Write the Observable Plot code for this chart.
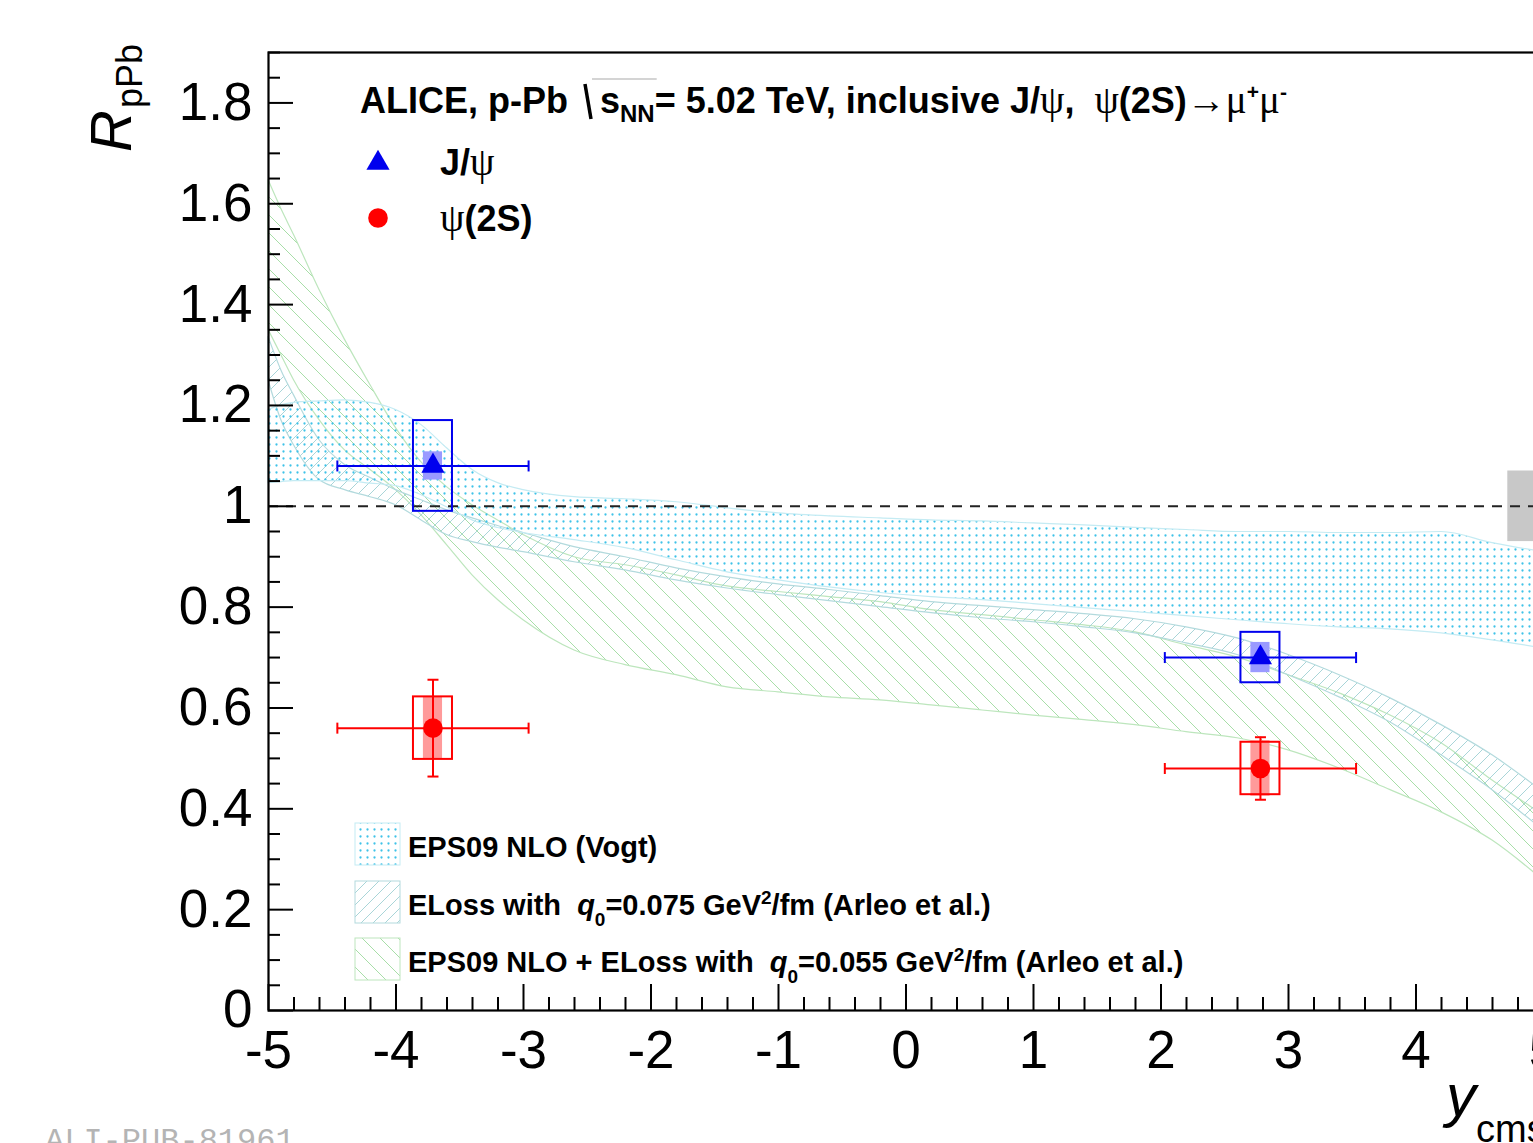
<!DOCTYPE html>
<html><head><meta charset="utf-8">
<script src="https://cdn.jsdelivr.net/npm/d3@7"></script>
<script src="https://cdn.jsdelivr.net/npm/@observablehq/plot@0.6"></script>
<style>
html,body{margin:0;padding:0;background:#fff;overflow:hidden;}
#chart{width:1533px;height:1143px;overflow:hidden;position:relative;}
#chart svg{max-width:none !important;width:1600px !important;height:1143px !important;}
</style></head><body><div id="chart"></div>
<script>
// ---------------- data ----------------
const binLo = [-4.46, 2.03];
const binHi = [-2.96, 3.53];
const binCenter = [-3.71, 2.78];

const jpsiR = [1.08, 0.70];
const jpsiStat = [0.012, 0.012];
const jpsiSyst = [0.09, 0.05];
const jpsiCorr = [0.028, 0.03];

const psiR = [0.56, 0.48];
const psiStat = [0.096, 0.062];
const psiSyst = [0.062, 0.052];
const psiCorr = [0.062, 0.055];

const globalUnc = 0.07;

const bandX = [-5, -4.9, -4.8, -4.6, -4.4, -4.2, -4, -3.8, -3.6, -3.4, -3.2, -3, -2.6, -2.2, -1.8, -1.4, -1, -0.6, -0.2, 0.2, 0.6, 1, 1.4, 1.8, 2.2, 2.6, 3, 3.4, 3.8, 4.2, 4.6, 5];
const vogtLo = [1.046, 1.048, 1.05, 1.05, 1.05, 1.045, 1.04, 1.022, 0.998, 0.972, 0.957, 0.947, 0.933, 0.917, 0.893, 0.869, 0.853, 0.839, 0.828, 0.82, 0.814, 0.806, 0.798, 0.79, 0.782, 0.774, 0.766, 0.76, 0.756, 0.748, 0.734, 0.718];
const vogtHi = [1.191, 1.2, 1.205, 1.208, 1.21, 1.205, 1.191, 1.161, 1.115, 1.072, 1.046, 1.032, 1.018, 1.014, 1.008, 0.996, 0.986, 0.98, 0.976, 0.972, 0.97, 0.966, 0.962, 0.957, 0.953, 0.949, 0.949, 0.947, 0.947, 0.949, 0.927, 0.909];
const elossLo = [1.25, 1.171, 1.121, 1.052, 1.032, 1.018, 1.002, 0.972, 0.943, 0.929, 0.918, 0.909, 0.889, 0.873, 0.853, 0.837, 0.824, 0.812, 0.80, 0.788, 0.778, 0.77, 0.76, 0.748, 0.728, 0.705, 0.665, 0.621, 0.571, 0.506, 0.437, 0.357];
const elossHi = [1.336, 1.27, 1.22, 1.131, 1.082, 1.056, 1.032, 1.012, 0.992, 0.976, 0.961, 0.947, 0.919, 0.899, 0.877, 0.859, 0.845, 0.834, 0.822, 0.81, 0.802, 0.794, 0.786, 0.776, 0.76, 0.738, 0.705, 0.665, 0.619, 0.566, 0.506, 0.433];
const combLo = [1.35, 1.30, 1.25, 1.171, 1.111, 1.072, 1.032, 0.982, 0.923, 0.863, 0.814, 0.774, 0.714, 0.685, 0.665, 0.641, 0.631, 0.621, 0.615, 0.605, 0.595, 0.585, 0.576, 0.566, 0.552, 0.54, 0.516, 0.48, 0.437, 0.393, 0.337, 0.258];
const combHi = [1.647, 1.59, 1.538, 1.429, 1.33, 1.24, 1.155, 1.087, 1.038, 1.002, 0.972, 0.943, 0.899, 0.883, 0.863, 0.841, 0.83, 0.82, 0.81, 0.794, 0.784, 0.774, 0.764, 0.75, 0.724, 0.70, 0.665, 0.629, 0.585, 0.53, 0.456, 0.387];

const xMajor = [-5, -4, -3, -2, -1, 0, 1, 2, 3, 4, 5];
const yMajor = [0, 0.2, 0.4, 0.6, 0.8, 1, 1.2, 1.4, 1.6, 1.8];
const xMinor = d3.range(-50, 51, 2).map(d => d / 10).filter(d => !Number.isInteger(d));
const yMinor = d3.range(0, 39, 1).map(d => d / 20).filter(d => Math.round(d * 100) % 20 !== 0);

const modelLabels = ["EPS09 NLO (Vogt)", "ELoss with", "EPS09 NLO + ELoss with"];

// ---------------- tables ----------------
const band = (lo, hi) => bandX.map((x, i) => ({x, lo: lo[i], hi: hi[i]}));
const vogt = band(vogtLo, vogtHi);
const eloss = band(elossLo, elossHi);
const comb = band(combLo, combHi);
const mk = (r, stat, syst, corr) => binCenter.map((x, i) => ({x, lo: binLo[i], hi: binHi[i], r: r[i], stat: stat[i], syst: syst[i], corr: corr[i]}));
const jpsi = mk(jpsiR, jpsiStat, jpsiSyst, jpsiCorr);
const psi = mk(psiR, psiStat, psiSyst, psiCorr);

const W = 1600, H = 1143, mL = 268, mR = 57, mT = 52, mB = 133;
const plotW = W - mL - mR, plotH = H - mT - mB;
const SANS = "'Liberation Sans', Arial, Helvetica, sans-serif";
const SERIF = "'Liberation Serif', 'Times New Roman', serif";
const BLUE = "#0000ee", RED = "#ff0000";

const vCap = {draw(ctx, size) { const r = Math.sqrt(size / Math.PI); ctx.moveTo(0, -r); ctx.lineTo(0, r); }};
const hCap = {draw(ctx, size) { const r = Math.sqrt(size / Math.PI); ctx.moveTo(-r, 0); ctx.lineTo(r, 0); }};
const ends = (d) => d.flatMap(p => [{x: p.lo, r: p.r}, {x: p.hi, r: p.r}]);
const vEnds = (d) => d.flatMap(p => [{x: p.x, r: p.r - p.stat}, {x: p.x, r: p.r + p.stat}]);

function series(data, color, light, symbol, rad, caps) {
  return [
    Plot.rect(data, {x1: d => d.x - 0.075, x2: d => d.x + 0.075, y1: d => d.r - d.corr, y2: d => d.r + d.corr, fill: light}),
    Plot.rect(data, {x1: d => d.x - 0.153, x2: d => d.x + 0.153, y1: d => d.r - d.syst, y2: d => d.r + d.syst, fill: "none", stroke: color, strokeWidth: 2}),
    Plot.ruleY(data, {y: "r", x1: "lo", x2: "hi", stroke: color, strokeWidth: 2}),
    Plot.ruleX(data, {x: "x", y1: d => d.r - d.stat, y2: d => d.r + d.stat, stroke: color, strokeWidth: 2}),
    Plot.dot(ends(data), {x: "x", y: "r", symbol: vCap, r: 5.5, fill: "none", stroke: color, strokeWidth: 2}),
    caps ? Plot.dot(vEnds(data), {x: "x", y: "r", symbol: hCap, r: 5.5, fill: "none", stroke: color, strokeWidth: 2}) : null,
    Plot.dot(data, {x: "x", y: "r", symbol, r: rad, fill: color, stroke: "none"})
  ];
}

const svgEl = Plot.plot({
  width: W, height: H,
  marginLeft: mL, marginRight: mR, marginTop: mT, marginBottom: mB,
  style: {fontFamily: SANS, background: "white", color: "black", overflow: "visible"},
  x: {domain: [-5, 5]},
  y: {domain: [0, 1.9]},
  marks: [
    Plot.areaY(comb, {x: "x", y1: "lo", y2: "hi", fill: "url(#hatchGreen)", stroke: "#bde6bd", strokeWidth: 1.2, curve: "monotone-x"}),
    Plot.areaY(eloss, {x: "x", y1: "lo", y2: "hi", fill: "url(#hatchTeal)", stroke: "#b3dadd", strokeWidth: 1.2, curve: "monotone-x"}),
    Plot.areaY(vogt, {x: "x", y1: "lo", y2: "hi", fill: "url(#dotsCyan)", stroke: "#c4ebf3", strokeWidth: 1.2, curve: "monotone-x"}),
    Plot.rect([globalUnc], {x1: 4.72, x2: 5, y1: d => 1 - d, y2: d => 1 + d, fill: "#c8c8c8"}),
    Plot.ruleY([1], {stroke: "#222", strokeWidth: 2, strokeDasharray: "10,8"}),
    ...series(psi, RED, "#ff9a9a", "circle", 9.8, true),
    ...series(jpsi, BLUE, "#9a9aff", "triangle", 8.6, false),
    Plot.tickX(xMinor, {x: d => d, insetTop: plotH - 13, stroke: "black", strokeWidth: 2}),
    Plot.tickX(xMajor, {x: d => d, insetTop: plotH - 26, stroke: "black", strokeWidth: 2}),
    Plot.tickY(yMinor, {y: d => d, insetRight: plotW - 12, stroke: "black", strokeWidth: 2}),
    Plot.tickY(yMajor, {y: d => d, insetRight: plotW - 25, stroke: "black", strokeWidth: 2}),
    Plot.axisY({ticks: yMajor, tickSize: 0, tickPadding: 16, fontSize: 53, tickFormat: d => String(+d.toFixed(1))}),
    Plot.axisX({ticks: xMajor, tickSize: 0, tickPadding: 20, fontSize: 53, tickFormat: d => String(d)}),
    Plot.frame({stroke: "black", strokeWidth: 2.2})
  ]
});
document.getElementById("chart").appendChild(svgEl);

// ---------------- patterns ----------------
const svg = d3.select(svgEl);
const defs = svg.insert("defs", ":first-child");
const pDots = defs.append("pattern").attr("id", "dotsCyan").attr("patternUnits", "userSpaceOnUse").attr("width", 7).attr("height", 7);
pDots.append("circle").attr("cx", 3.5).attr("cy", 3.5).attr("r", 1.15).attr("fill", "#3fc2e8");
const pTeal = defs.append("pattern").attr("id", "hatchTeal").attr("patternUnits", "userSpaceOnUse").attr("width", 12).attr("height", 12);
pTeal.append("path").attr("d", "M-1,13 L13,-1 M-1,1 L1,-1 M11,13 L13,11").attr("stroke", "#9fd0d4").attr("stroke-width", 0.9).attr("fill", "none");
const pGreen = defs.append("pattern").attr("id", "hatchGreen").attr("patternUnits", "userSpaceOnUse").attr("width", 18).attr("height", 18);
pGreen.append("path").attr("d", "M-1,-1 L19,19 M-1,17 L1,19 M17,-1 L19,1").attr("stroke", "#a8dea8").attr("stroke-width", 1).attr("fill", "none");

// overlay group with start-anchored text
const g = svg.append("g").attr("text-anchor", "start").attr("font-family", SANS).attr("fill", "black");

// ---------------- title ----------------
const title = g.append("text").attr("x", 360).attr("y", 113).attr("font-size", 36).attr("font-weight", "bold");
title.append("tspan").text("ALICE, p-Pb ");
title.append("tspan").attr("dx", 22).text("s");
title.append("tspan").attr("font-size", 24).attr("dy", 9).text("NN");
title.append("tspan").attr("dy", -9).text("= 5.02 TeV, inclusive J/");
title.append("tspan").attr("font-family", SERIF).attr("font-weight", "normal").attr("font-size", 39).text("ψ");
title.append("tspan").text(",  ");
title.append("tspan").attr("font-family", SERIF).attr("font-weight", "normal").attr("font-size", 39).text("ψ");
title.append("tspan").text("(2S)");
title.append("tspan").attr("font-family", SERIF).attr("font-weight", "normal").attr("font-size", 39).text("→μ");
title.append("tspan").attr("font-size", 21).attr("dy", -14).text("+");
title.append("tspan").attr("font-family", SERIF).attr("font-weight", "normal").attr("font-size", 39).attr("dy", 14).text("μ");
title.append("tspan").attr("font-size", 21).attr("dy", -14).text("-");
try {
  const tn = title.node();
  const sx = tn.getStartPositionOfChar(12).x;
  const ex = tn.getEndPositionOfChar(14).x;
  g.append("path").attr("d", `M${sx - 15},84 L${sx - 9},119`).attr("stroke", "black").attr("stroke-width", 3.5).attr("fill", "none");
  g.append("path").attr("d", `M${sx - 8},79 L${ex + 2},79`).attr("stroke", "#aaa").attr("stroke-width", 1.2).attr("fill", "none");
} catch (e) {}

// ---------------- marker legend ----------------
g.append("path").attr("transform", "translate(378,163)").attr("d", d3.symbol(d3.symbolTriangle, Math.PI * 8.6 * 8.6)()).attr("fill", BLUE);
g.append("circle").attr("cx", 378).attr("cy", 218).attr("r", 9.8).attr("fill", RED);
const l1 = g.append("text").attr("x", 440).attr("y", 175).attr("font-size", 36).attr("font-weight", "bold");
l1.append("tspan").text("J/");
l1.append("tspan").attr("font-family", SERIF).attr("font-weight", "normal").attr("font-size", 39).text("ψ");
const l2 = g.append("text").attr("x", 440).attr("y", 231).attr("font-size", 36).attr("font-weight", "bold");
l2.append("tspan").attr("font-family", SERIF).attr("font-weight", "normal").attr("font-size", 39).text("ψ");
l2.append("tspan").text("(2S)");

// ---------------- model legend ----------------
const legY = [823, 881, 938];
const legFill = ["url(#dotsCyan)", "url(#hatchTeal)", "url(#hatchGreen)"];
const legStroke = ["#c4ebf3", "#b3dadd", "#bde6bd"];
legY.forEach((y, i) => {
  g.append("rect").attr("x", 355).attr("y", y).attr("width", 45).attr("height", 42).attr("fill", legFill[i]).attr("stroke", legStroke[i]).attr("stroke-width", 1);
});
g.append("text").attr("x", 408).attr("y", 857).attr("font-size", 29).attr("font-weight", "bold").text(modelLabels[0]);
function qText(y, label, q0) {
  const t = g.append("text").attr("x", 408).attr("y", y).attr("font-size", 29).attr("font-weight", "bold");
  t.append("tspan").text(label + " ");
  t.append("tspan").attr("dx", 8).attr("font-style", "italic").text("q");
  t.append("tspan").attr("font-size", 19).attr("dy", 11).text("0");
  t.append("tspan").attr("dy", -11).text("=" + q0 + " GeV");
  t.append("tspan").attr("font-size", 19).attr("dy", -11).text("2");
  t.append("tspan").attr("dy", 11).text("/fm (Arleo et al.)");
}
qText(915, modelLabels[1], "0.075");
qText(972, modelLabels[2], "0.055");

// ---------------- axis titles ----------------
const yl = g.append("text").attr("transform", "translate(131,152) rotate(-90)");
yl.append("tspan").attr("font-size", 58).attr("font-style", "italic").text("R");
yl.append("tspan").attr("font-size", 36).attr("dy", 11).attr("dx", 2).text("pPb");
const xl = g.append("text").attr("x", 1446).attr("y", 1116);
xl.append("tspan").attr("font-size", 60).attr("font-style", "italic").text("y");
xl.append("tspan").attr("font-size", 38).attr("dy", 26).text("cms");

// watermark
g.append("text").attr("x", 45).attr("y", 1150).attr("font-family", "'Liberation Mono', 'DejaVu Sans Mono', monospace").attr("font-size", 32).attr("fill", "#b4b4b4").text("ALI-PUB-81961");
</script></body></html>
